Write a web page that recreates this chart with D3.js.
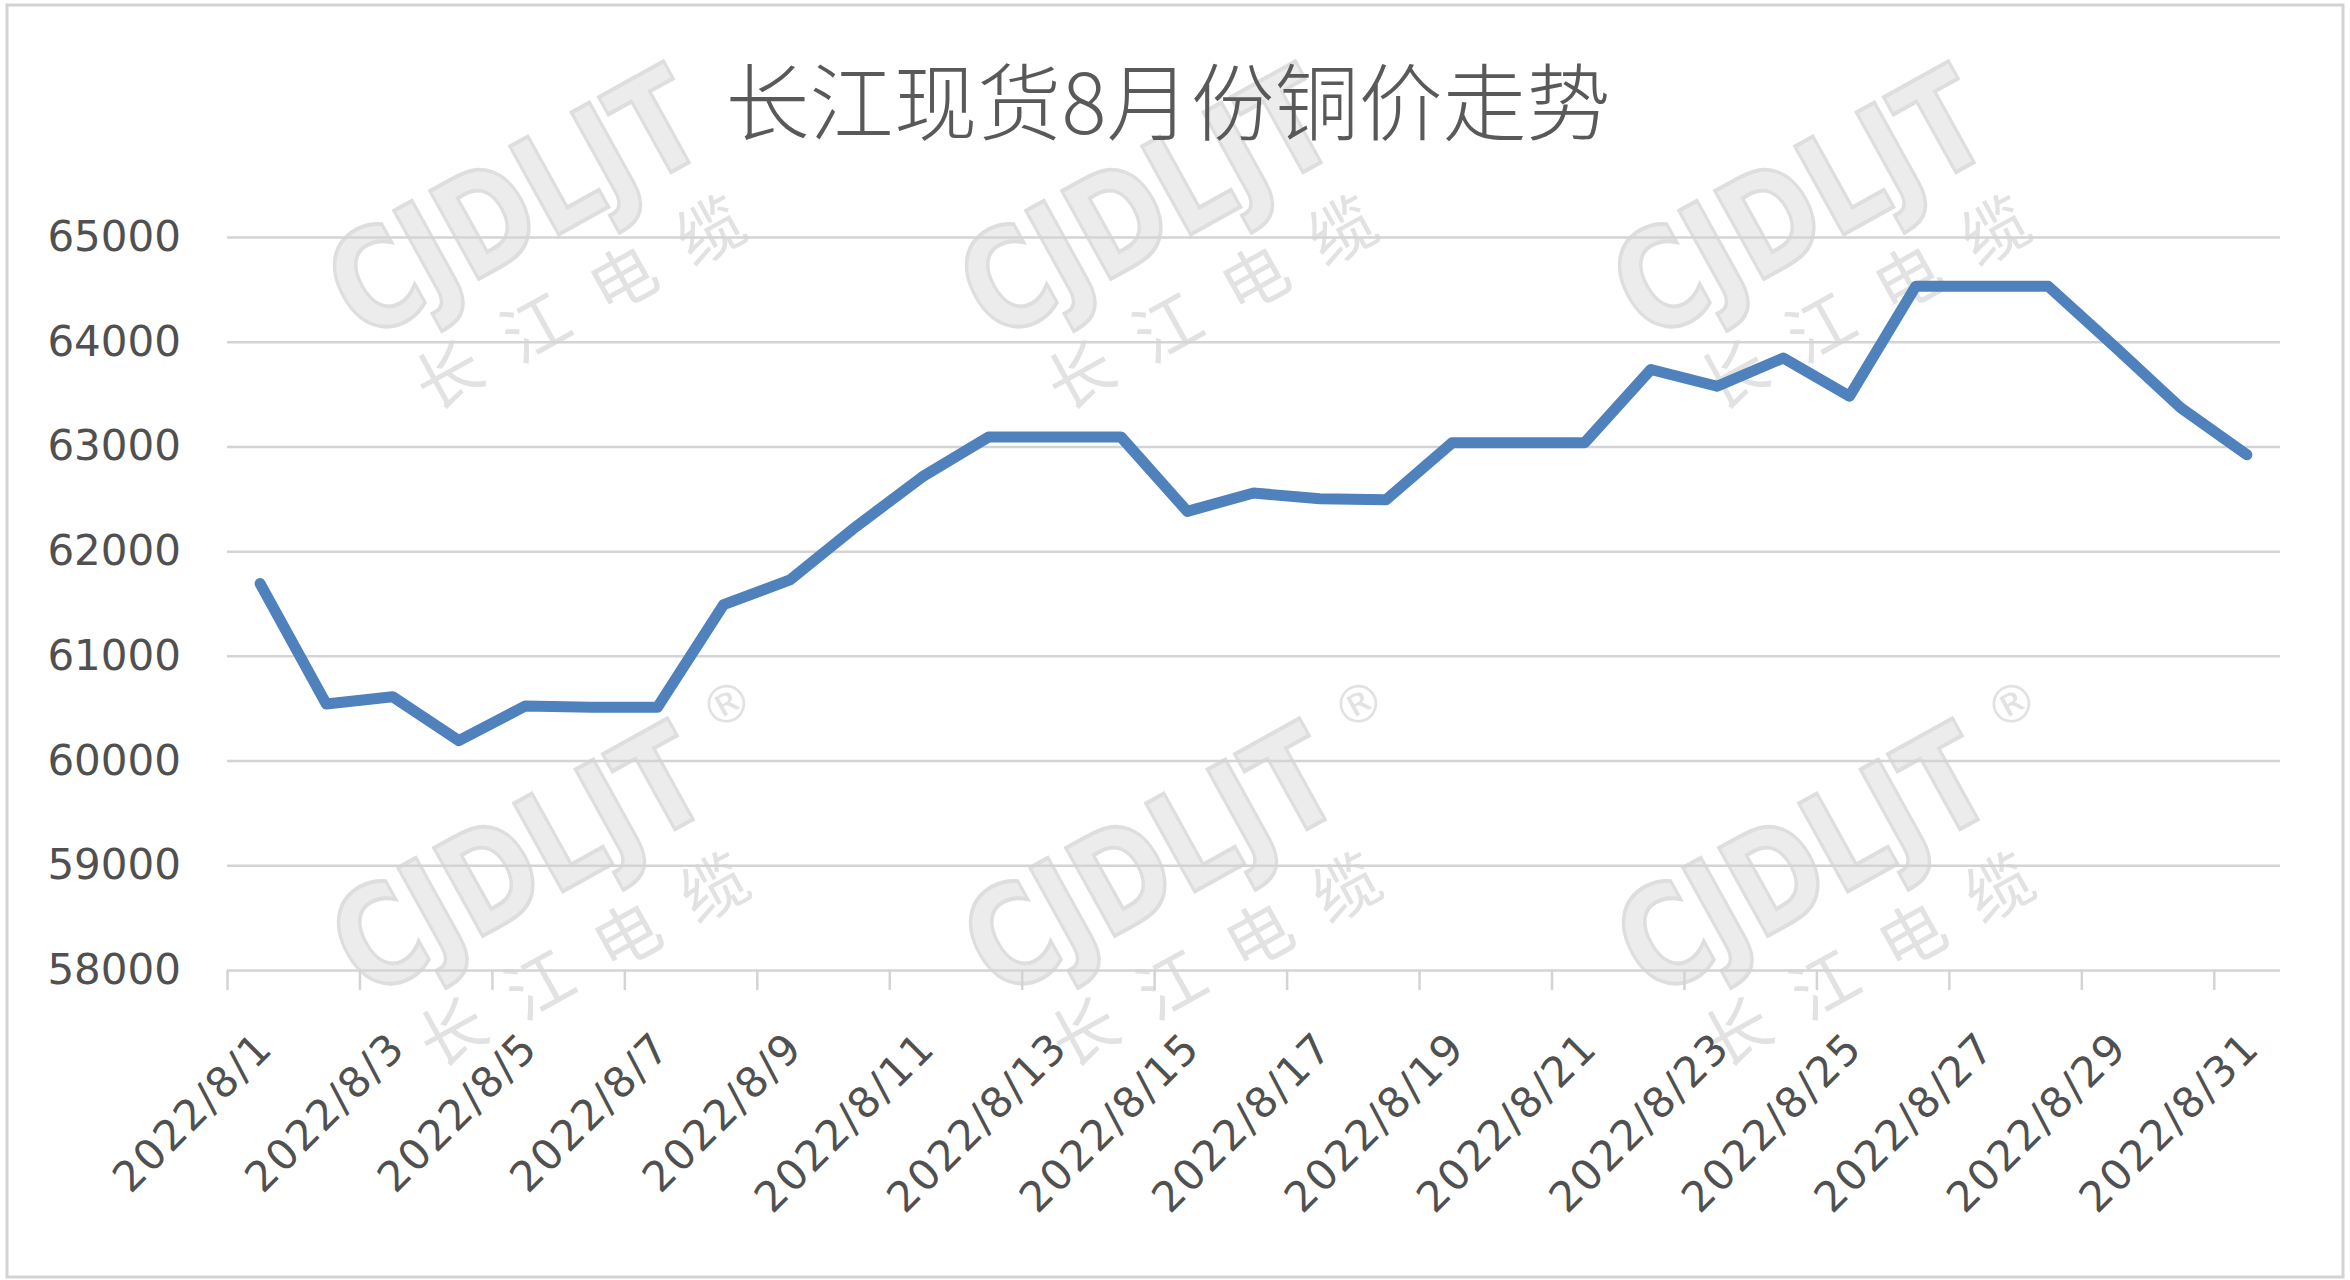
<!DOCTYPE html>
<html>
<head>
<meta charset="utf-8">
<script src="https://cdn.jsdelivr.net/npm/d3@7"></script>
<style>
	body { margin: 0; background: #fff; }
	svg { display: block; }
</style>
</head>
<body>
<div id="container"></div>
<script>

// chart data
var titleText = "长江现货8月份铜价走势";

var dates = ["2022/8/1", "2022/8/2", "2022/8/3", "2022/8/4", "2022/8/5", "2022/8/6",
	"2022/8/7", "2022/8/8", "2022/8/9", "2022/8/10", "2022/8/11", "2022/8/12",
	"2022/8/13", "2022/8/14", "2022/8/15", "2022/8/16", "2022/8/17", "2022/8/18",
	"2022/8/19", "2022/8/20", "2022/8/21", "2022/8/22", "2022/8/23", "2022/8/24",
	"2022/8/25", "2022/8/26", "2022/8/27", "2022/8/28", "2022/8/29", "2022/8/30",
	"2022/8/31"];

var prices = [61690, 60540, 60610, 60190, 60520, 60510, 60510, 61490, 61725, 62235,
	62710, 63090, 63090, 63090, 62380, 62555, 62500, 62490, 63035, 63035, 63035,
	63735, 63575, 63845, 63480, 64530, 64530, 64530, 63955, 63370, 62920];

var yTicks = [58000, 59000, 60000, 61000, 62000, 63000, 64000, 65000];

// watermark texts
var markLogo = "CJDLJT";
var markName = "长江电缆";
var markReg = "®";

function load() {

	var W = 2350, H = 1280;

	// plot area
	var plot = { left: 227, right: 2280, top: 237, bottom: 970 };

	var svg = d3.select("#container")
		.append("svg")
		.attr("width", W)
		.attr("height", H);

	// background + thin frame
	svg.append("rect")
		.attr("x", 7).attr("y", 5)
		.attr("width", 2336).attr("height", 1272)
		.attr("fill", "#fff")
		.attr("stroke", "#d3d3d3")
		.attr("stroke-width", 3);

	// scales
	var xScale = d3.scaleBand()
		.domain(dates)
		.range([plot.left, plot.right])
		.padding(0);

	// boundary scale for the tick marks (between categories)
	var xEdge = d3.scaleLinear()
		.domain([0, dates.length])
		.range([plot.left, plot.right]);

	var yScale = d3.scaleLinear()
		.domain([58000, 65000])
		.range([plot.bottom, plot.top]);

	// watermarks (behind everything)
	var marks = [
		{ x: 363, y: 343, reg: false }, { x: 995, y: 343, reg: false }, { x: 1648, y: 343, reg: false },
		{ x: 367, y: 1000, reg: true }, { x: 999, y: 1000, reg: true }, { x: 1652, y: 1000, reg: true }
	];

	var wm = svg.append("g")
		.attr("class", "watermarks")
		.selectAll("g")
		.data(marks)
		.enter().append("g")
			.attr("transform", function(d) { return "translate(" + d.x + "," + d.y + ") rotate(-29)"; });

	wm.append("text")
		.attr("font-family", "DejaVu Sans")
		.attr("font-weight", "bold")
		.attr("font-size", 138)
		.attr("textLength", 400)
		.attr("lengthAdjust", "spacingAndGlyphs")
		.attr("fill", "#ececec")
		.attr("stroke", "#dedede")
		.attr("stroke-width", 4)
		.text(markLogo);

	wm.append("text")
		.attr("x", 26).attr("y", 94)
		.attr("font-family", "Noto Sans CJK SC")
		.attr("font-size", 66)
		.attr("textLength", 365)
		.attr("lengthAdjust", "spacing")
		.attr("fill", "#e2e2e2")
		.text(markName);

	wm.filter(function(d) { return d.reg; })
		.append("text")
		.attr("x", 458).attr("y", -84)
		.attr("text-anchor", "middle")
		.attr("dominant-baseline", "central")
		.attr("font-family", "DejaVu Sans")
		.attr("font-size", 52)
		.attr("fill", "#e2e2e2")
		.text(markReg);

	// horizontal gridlines + y labels
	var yAxis = svg.append("g")
		.attr("class", "y axis")
		.attr("transform", "translate(" + plot.left + ",0)")
		.call(d3.axisLeft(yScale)
			.tickValues(yTicks)
			.tickSize(-(plot.right - plot.left))
			.tickPadding(46)
			.tickFormat(d3.format("d")));

	yAxis.select(".domain").remove();
	yAxis.selectAll("line")
		.attr("stroke", "#d4d4d4")
		.attr("stroke-width", 2.5);
	yAxis.selectAll("text")
		.attr("font-family", "DejaVu Sans")
		.attr("font-size", 42)
		.attr("fill", "#505050");

	// tick marks every second category
	var tickIdx = d3.range(0, dates.length, 2);

	var xAxis = svg.append("g")
		.attr("class", "x axis")
		.attr("transform", "translate(0," + plot.bottom + ")")
		.call(d3.axisBottom(xEdge)
			.tickValues(tickIdx)
			.tickSize(20)
			.tickFormat(""));

	xAxis.select(".domain").remove();
	xAxis.selectAll("line")
		.attr("stroke", "#d4d4d4")
		.attr("stroke-width", 2.5);

	// rotated date labels
	var labelDates = dates.filter(function(d, i) { return i % 2 === 0; });

	svg.append("g")
		.attr("class", "x labels")
		.selectAll("text")
		.data(labelDates)
		.enter().append("text")
			.attr("transform", function(d) {
				var cx = xScale(d) + xScale.bandwidth() / 2 + 15;
				return "translate(" + cx + "," + (plot.bottom + 80) + ") rotate(-45)";
			})
			.attr("text-anchor", "end")
			.attr("font-family", "DejaVu Sans")
			.attr("font-size", 42)
			.attr("letter-spacing", 2)
			.attr("fill", "#505050")
			.text(function(d) { return d; });

	// price line
	var priceline = d3.line()
		.x(function(d, i) { return xScale(dates[i]) + xScale.bandwidth() / 2; })
		.y(function(d) { return yScale(d); });

	svg.append("path")
		.datum(prices)
		.attr("d", priceline)
		.attr("fill", "none")
		.attr("stroke", "#4f81bd")
		.attr("stroke-width", 11)
		.attr("stroke-linejoin", "round")
		.attr("stroke-linecap", "round");

	// title
	svg.append("text")
		.attr("x", 1168)
		.attr("y", 97)
		.attr("text-anchor", "middle")
		.attr("dominant-baseline", "central")
		.attr("font-family", "Noto Sans CJK SC")
		.attr("font-weight", 300)
		.attr("font-size", 84)
		.attr("fill", "#595959")
		.text(titleText);
}

load();
</script>
</body>
</html>
